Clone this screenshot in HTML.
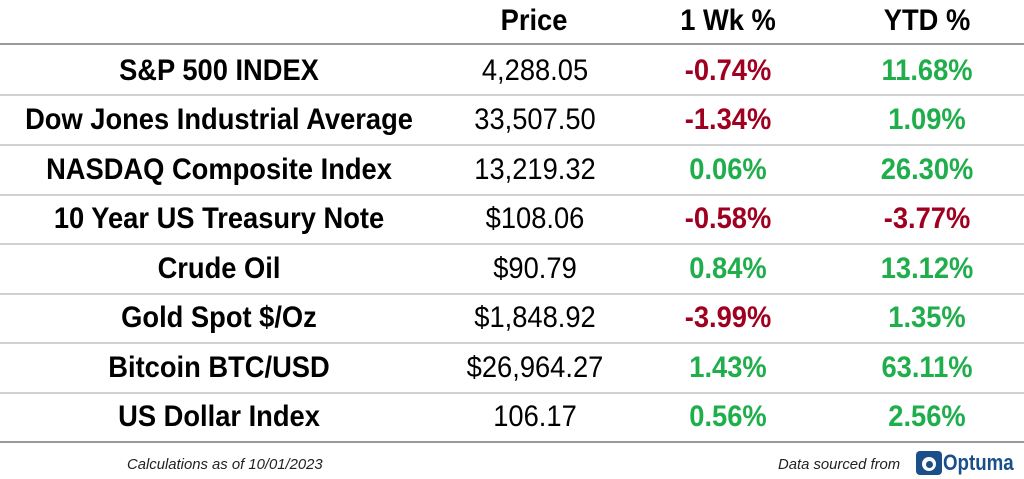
<!DOCTYPE html>
<html><head><style>
body{margin:0;width:1024px;height:479px;background:#fff;position:relative;overflow:hidden;font-family:"Liberation Sans",Arial,sans-serif;}
.c{position:absolute;white-space:nowrap;transform:translateX(-50%) scaleX(0.91);font-size:30px;line-height:30px;color:#000;}
.b{font-weight:bold}
.r{color:#a00020;font-weight:bold}
.g{color:#1fae4b;font-weight:bold}
.l{position:absolute;left:0;width:1024px;height:2px;background:#d0d0d0}
.d{background:#9a9a9a}
.f{position:absolute;font-style:italic;font-size:15px;color:#222;transform:scaleX(0.99);transform-origin:left;white-space:nowrap}
</style></head><body>
<div class="l d" style="top:43px"></div>
<div class="l" style="top:94px"></div>
<div class="l" style="top:144px"></div>
<div class="l" style="top:194px"></div>
<div class="l" style="top:243px"></div>
<div class="l" style="top:293px"></div>
<div class="l" style="top:342px"></div>
<div class="l" style="top:392px"></div>
<div class="l d" style="top:441px"></div>

<div class="c b" style="left:534px;top:6px">Price</div>
<div class="c b" style="left:728px;top:6px">1 Wk %</div>
<div class="c b" style="left:927px;top:6px">YTD %</div>

<div class="c b" style="left:219px;top:56px">S&amp;P 500 INDEX</div>
<div class="c" style="left:535px;top:56px">4,288.05</div>
<div class="c r" style="left:728px;top:56px">-0.74%</div>
<div class="c g" style="left:927px;top:56px">11.68%</div>

<div class="c b" style="left:219px;top:105px">Dow Jones Industrial Average</div>
<div class="c" style="left:535px;top:105px">33,507.50</div>
<div class="c r" style="left:728px;top:105px">-1.34%</div>
<div class="c g" style="left:927px;top:105px">1.09%</div>

<div class="c b" style="left:219px;top:155px">NASDAQ Composite Index</div>
<div class="c" style="left:535px;top:155px">13,219.32</div>
<div class="c g" style="left:728px;top:155px">0.06%</div>
<div class="c g" style="left:927px;top:155px">26.30%</div>

<div class="c b" style="left:219px;top:204px">10 Year US Treasury Note</div>
<div class="c" style="left:535px;top:204px">$108.06</div>
<div class="c r" style="left:728px;top:204px">-0.58%</div>
<div class="c r" style="left:927px;top:204px">-3.77%</div>

<div class="c b" style="left:219px;top:254px">Crude Oil</div>
<div class="c" style="left:535px;top:254px">$90.79</div>
<div class="c g" style="left:728px;top:254px">0.84%</div>
<div class="c g" style="left:927px;top:254px">13.12%</div>

<div class="c b" style="left:219px;top:303px">Gold Spot $/Oz</div>
<div class="c" style="left:535px;top:303px">$1,848.92</div>
<div class="c r" style="left:728px;top:303px">-3.99%</div>
<div class="c g" style="left:927px;top:303px">1.35%</div>

<div class="c b" style="left:219px;top:353px">Bitcoin BTC/USD</div>
<div class="c" style="left:535px;top:353px">$26,964.27</div>
<div class="c g" style="left:728px;top:353px">1.43%</div>
<div class="c g" style="left:927px;top:353px">63.11%</div>

<div class="c b" style="left:219px;top:402px">US Dollar Index</div>
<div class="c" style="left:535px;top:402px">106.17</div>
<div class="c g" style="left:728px;top:402px">0.56%</div>
<div class="c g" style="left:927px;top:402px">2.56%</div>

<div class="f" style="left:127px;top:456px">Calculations as of 10/01/2023</div>
<div class="f" style="left:778px;top:456px">Data sourced from</div>
<div style="position:absolute;left:916px;top:451px;width:26px;height:24px;background:#1a4f8a;border-radius:4px"></div>
<div style="position:absolute;left:922px;top:457px;width:14px;height:14px;border-radius:50%;background:#fff"></div>
<div style="position:absolute;left:926px;top:461px;width:7px;height:7px;border-radius:50%;background:#1a4f8a"></div>
<div style="position:absolute;left:943px;top:450px;font-size:22px;font-weight:bold;color:#1a4f8a;transform:scaleX(0.85);transform-origin:left">Optuma</div>
</body></html>
